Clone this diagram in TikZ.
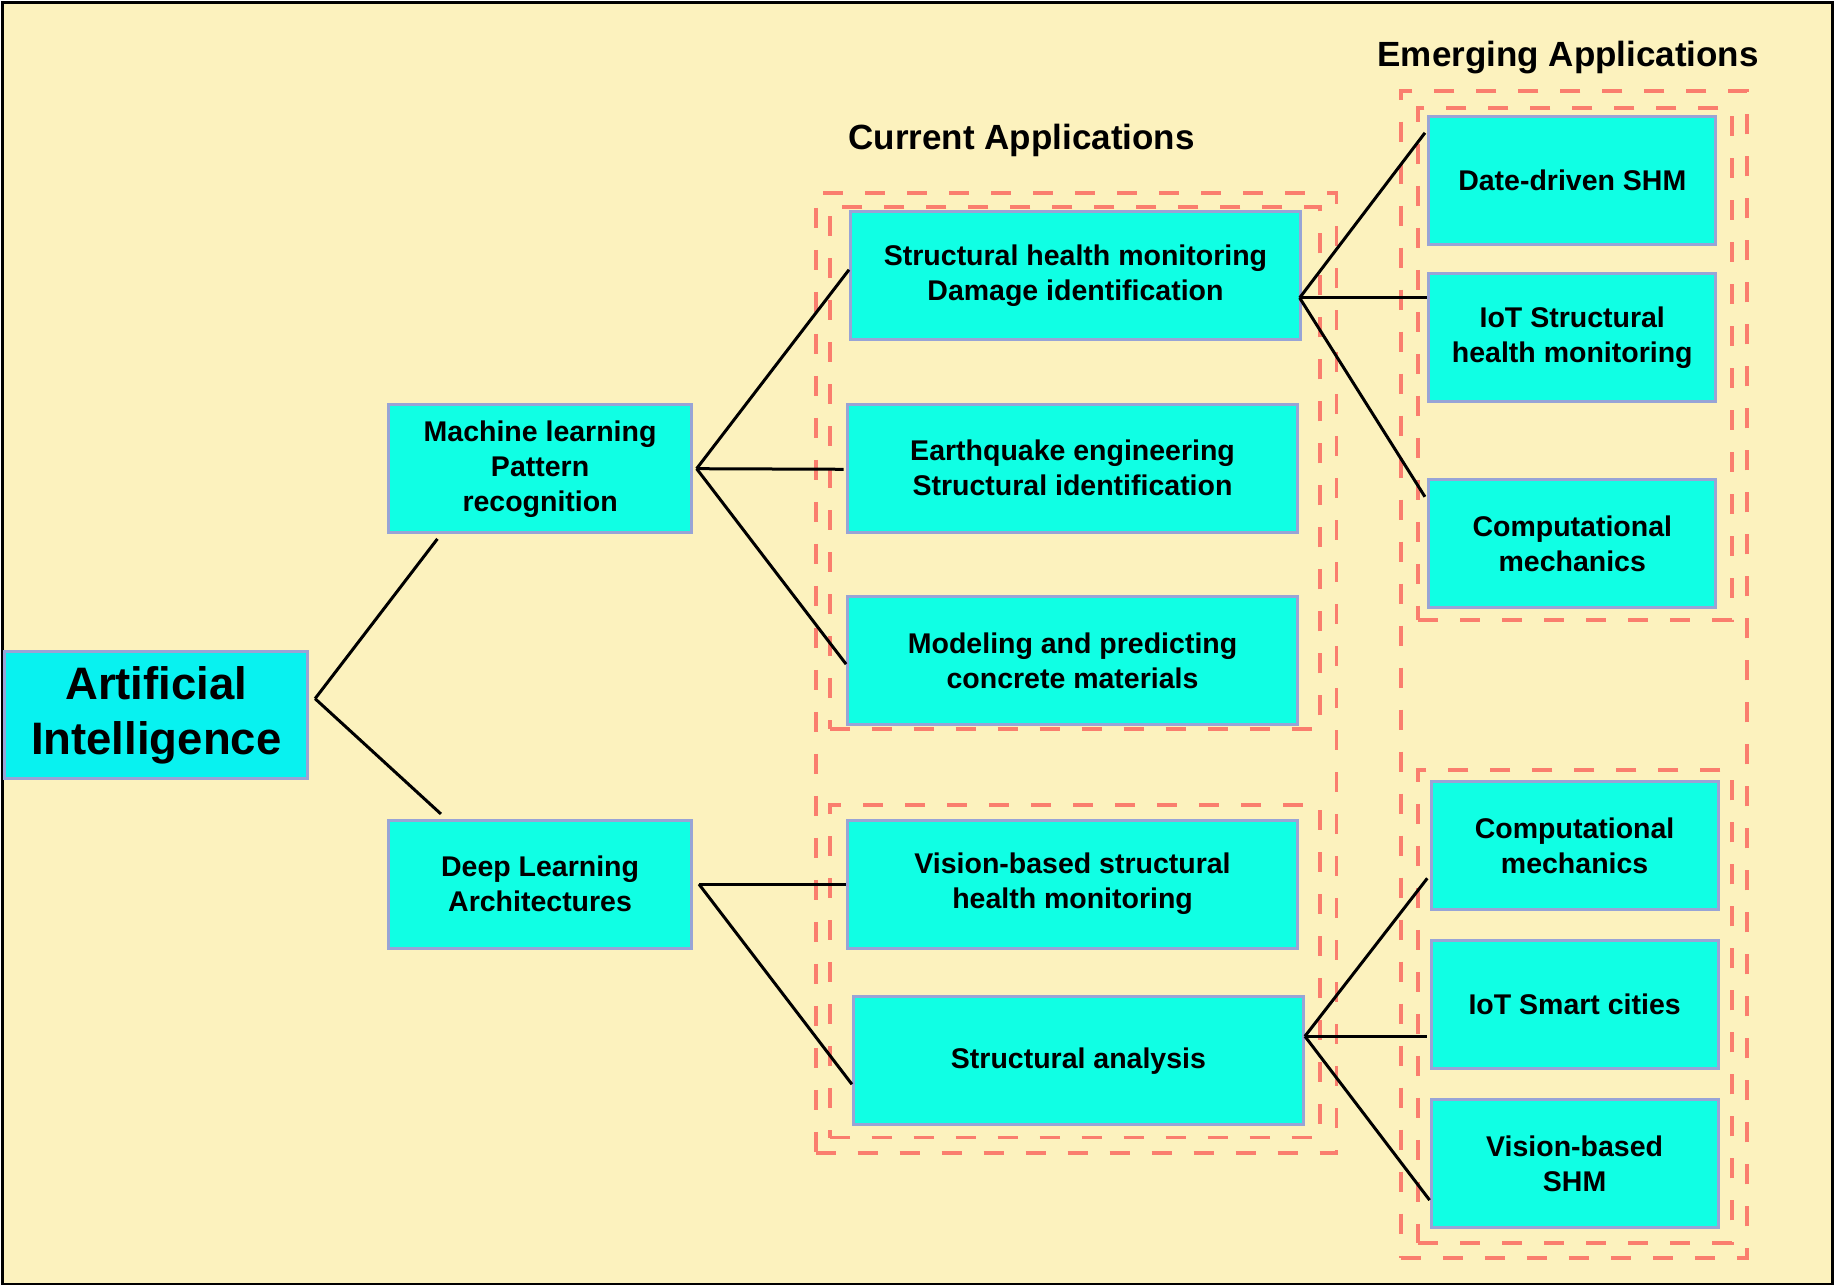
\documentclass[tikz,border=0pt]{standalone}
\usepackage{fontspec}
\setmainfont{Liberation Sans}
\usetikzlibrary{positioning,calc,fit}

\definecolor{bgyellow}{RGB}{252,242,190}
\definecolor{boxcyan}{RGB}{16,255,228}
\definecolor{aicyan}{RGB}{8,242,240}
\definecolor{boxedge}{RGB}{152,164,214}
\definecolor{dashred}{RGB}{250,126,110}

\begin{document}
\begin{tikzpicture}[
    x=1.1703pt, y=-1.1703pt,
    box/.style={rectangle, draw=boxedge, line width=3pt, fill=boxcyan, align=center, inner sep=0pt, font=\bfseries\fontsize{28.5}{35}\selectfont},
    rootbox/.style={box, fill=aicyan, minimum width=303pt, minimum height=127pt, font=\bfseries\fontsize{45.5}{55}\selectfont},
    methodbox/.style={box, minimum width=303pt, minimum height=128pt},
    currentbox/.style={box, minimum width=450pt, minimum height=128pt},
    emergebox/.style={box, minimum width=287pt, minimum height=128pt},
    groupbox/.style={draw=dashred, line width=3.8pt, dash pattern=on 20pt off 22pt, inner sep=0pt},
    title/.style={font=\bfseries\fontsize{35}{42}\selectfont},
    link/.style={line width=3pt, black}
]
    % Sfondo e cornice
    \useasboundingbox (0,0) rectangle (1568,1100);
    \draw[fill=bgyellow, line width=2.5pt] (2,2) rectangle (1566,1097);

    % Titoli
    \node[title] (curtitle) at (873,120) {Current Applications};
    \node[title] (emtitle) at (1340,49) {Emerging Applications};

    % Riquadri tratteggiati - Current
    \node[groupbox, fit={(697,165) (1142,985)}] (curout) {};
    \node[groupbox, fit={(709,177) (1128,623)}] (curin1) {};
    \node[groupbox, fit={(709,688) (1128,972)}] (curin2) {};

    % Riquadri tratteggiati - Emerging
    \node[groupbox, fit={(1197,78) (1493,1075)}] (emout) {};
    \node[groupbox, fit={(1212,92) (1480,530)}] (emin1) {};
    \node[groupbox, fit={(1212,658) (1480,1062)}] (emin2) {};

    % Radice
    \node[rootbox] (ai) at (133.5,611) {Artificial\\Intelligence};

    % Metodi
    \node[methodbox] (ml) at (461.5,400.5) {Machine learning\\Pattern\\recognition};
    \node[methodbox] (dl) at (461.5,755.5) {Deep Learning\\Architectures};

    % Current Applications
    \node[currentbox] (shm) at (919,235.5) {Structural health monitoring\\Damage identification};
    \node[currentbox] (quake) at (916.5,400) {Earthquake engineering\\Structural identification};
    \node[currentbox] (concrete) at (916.5,564.5) {Modeling and predicting\\concrete materials};
    \node[currentbox] (vision) at (916.5,755.5) {Vision-based structural\\health monitoring};
    \node[currentbox] (analysis) at (921.5,906.5) {Structural analysis};

    % Emerging Applications
    \node[emergebox] (datashm) at (1343.5,154.5) {Date-driven SHM};
    \node[emergebox] (iotshm) at (1343.5,288.5) {IoT Structural\\health monitoring};
    \node[emergebox] (compmech) at (1343.5,464.5) {Computational\\mechanics};
    \node[emergebox] (compmechb) at (1345.5,722.5) {Computational\\mechanics};
    \node[emergebox] (iotcity) at (1345.5,858.5) {IoT Smart cities};
    \node[emergebox] (visionshm) at (1345.5,994.5) {Vision-based\\SHM};

    % Punti di diramazione
    \coordinate (aij) at ($(ai.east)+(5,-14)$);
    \coordinate (mlj) at ($(ml.east)+(3,0)$);
    \coordinate (dlj) at ($(dl.east)+(5,0)$);
    \coordinate (shmj) at ($(shm.east)+(-2,19)$);
    \coordinate (anj) at ($(analysis.east)+(0,-21)$);

    % Collegamenti
    \draw[link] (aij) -- ($(ml.south west)+(43,4)$);
    \draw[link] (aij) -- ($(dl.north west)+(46,-4)$);

    \draw[link] (mlj) -- ($(shm.west)+(0,-5)$);
    \draw[link] (mlj) -- ($(quake.west)+(-2,1)$);
    \draw[link] (mlj) -- ($(concrete.west)+(0,3)$);

    \draw[link] (dlj) -- (vision.west);
    \draw[link] (dlj) -- ($(analysis.west)+(0,20)$);

    \draw[link] (shmj) -- ($(datashm.west)+(-2,-41)$);
    \draw[link] (shmj) -- ($(iotshm.west)+(0,-34)$);
    \draw[link] (shmj) -- ($(compmech.west)+(-2,-40)$);

    \draw[link] (anj) -- ($(compmechb.west)+(-2,28)$);
    \draw[link] (anj) -- ($(iotcity.west)+(-2,27)$);
    \draw[link] (anj) -- ($(visionshm.west)+(0,31)$);
\end{tikzpicture}
\end{document}
